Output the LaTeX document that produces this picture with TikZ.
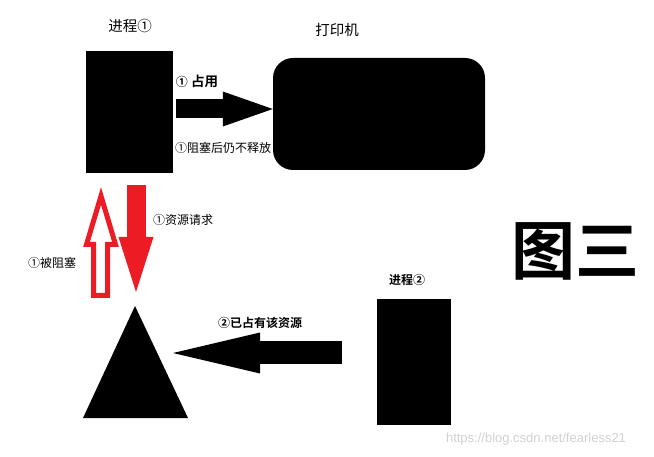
\documentclass[tikz,border=0pt]{standalone}
\usepackage{fontspec}
\newfontfamily\cjk{Noto Sans CJK SC}[BoldFont={Noto Sans CJK SC Bold}]
\setsansfont{Liberation Sans}
\usetikzlibrary{arrows.meta}
\definecolor{reqred}{HTML}{ED1C24}

\begin{document}
\begin{tikzpicture}[x=1pt, y=-1pt, font=\cjk\fontsize{12}{14}\selectfont,
  blk/.style={fill=black, inner sep=0pt},
  fatarrow/.style n args={3}{line width=#1pt, -{Triangle[length=#2pt, width=#3pt, line width=0pt]}},
  boldlbl/.style={font=\cjk\bfseries\fontsize{12}{14}\selectfont}]
\useasboundingbox (0,0) rectangle (654,457);

% process 1 and the printer
\node[blk, minimum width=87pt, minimum height=122pt] (proc1) at (129.5,112) {};
\node[font=\cjk\fontsize{14.5}{16}\selectfont] (proc1lbl) at (130,26) {进程①};
\node[blk, rounded corners=20pt, minimum width=212pt, minimum height=112pt] (printer) at (379,114) {};
\node[font=\cjk\fontsize{14.5}{16}\selectfont] (printerlbl) at (337,30) {打印机};
\draw[fatarrow={19}{50}{35}] ([shift={(3,-3)}]proc1.east) -- ([shift={(0,-5)}]printer.west);
\node[font=\cjk\bfseries\fontsize{13.5}{16}\selectfont] (occupy) at (197,81) {{\fontsize{12}{14}\selectfont①} 占用};
\node (norelease) at (223,148) {①阻塞后仍不释放};

% the resource
\coordinate (restop) at (135,306);
\coordinate (resleft) at (83,418);
\coordinate (resright) at (188,418);
\fill (restop) -- (resleft) -- (resright) -- cycle;

% request and blocked
\draw[reqred, fatarrow={19}{55}{35}] ([shift={(6.5,12)}]proc1.south) -- ([shift={(1,-14)}]restop);
\node (request) at (183,220) {①资源请求};
\draw[reqred, line width=5pt] (93.5,295.5) -- (107.5,295.5) -- (107.5,244.5) -- (115.5,244.5)
  -- (101,196) -- (86.5,244.5) -- (93.5,244.5) -- cycle;
\node (blocked) at (52,263) {①被阻塞};

% process 2 holds the resource
\node[blk, minimum width=74pt, minimum height=126pt] (proc2) at (414,362) {};
\node[boldlbl] (proc2lbl) at (407,280) {进程②};
\draw[fatarrow={23}{87}{41}] ([shift={(-35,-9)}]proc2.west) -- ([shift={(38,47)}]restop);
\node[boldlbl] (held) at (260,323) {②已占有该资源};

\node[font=\cjk\bfseries\fontsize{64}{64}\selectfont] (title) at (575,251) {图三};
\node[font=\sffamily\fontsize{13}{15}\selectfont, text=black!18] (mark) at (536,439) {https://blog.csdn.net/fearless21};
\end{tikzpicture}
\end{document}
